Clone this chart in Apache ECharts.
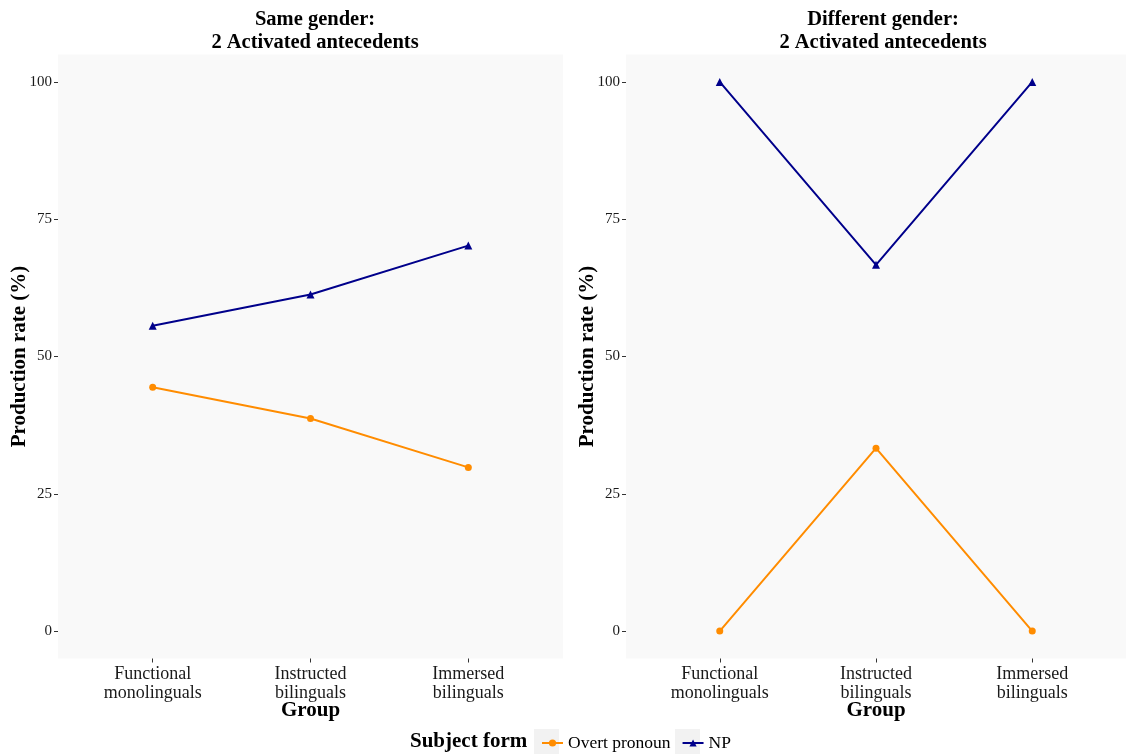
<!DOCTYPE html>
<html>
<head>
<meta charset="utf-8">
<script src="https://cdn.jsdelivr.net/npm/echarts@6/dist/echarts.min.js"></script>
<style>
  html, body { margin: 0; padding: 0; background: #fff; }
  #chart { width: 1126px; height: 756px; }
</style>
</head>
<body>
<div id="chart"></div>
<script>
var groups = ['Functional\nmonolinguals', 'Instructed\nbilinguals', 'Immersed\nbilinguals'];
var yTicks = [0, 25, 50, 75, 100];
var panelTitles = ['Same gender:\n2 Activated antecedents', 'Different gender:\n2 Activated antecedents'];

var sameOvert = [44.4, 38.7, 29.8];
var sameNP = [55.6, 61.3, 70.2];
var diffOvert = [0, 33.3, 0];
var diffNP = [100, 66.7, 100];

var font = 'Liberation Serif';
var orange = '#ff8c00';
var navy = '#00008b';

var chart = echarts.init(document.getElementById('chart'), null, { renderer: 'canvas' });

function pts(arr) {
    return arr.map(function (v, i) { return [i, v]; });
}

function xAxisFor(idx) {
    return {
        type: 'value',
        gridIndex: idx,
        min: -0.6,
        max: 2.6,
        name: 'Group',
        nameLocation: 'middle',
        nameGap: 42,
        nameMoveOverlap: false,
        nameTextStyle: { fontFamily: font, fontWeight: 'bold', fontSize: 21, color: '#000' },
        axisLine: { show: false, onZero: false },
        splitLine: { show: false },
        axisTick: { show: true, customValues: [0, 1, 2], length: 4, lineStyle: { color: '#333' } },
        axisLabel: {
            customValues: [0, 1, 2],
            formatter: function (v) { return groups[Math.round(v)]; },
            fontFamily: font, fontSize: 18, color: '#1a1a1a', lineHeight: 19, margin: 6
        }
    };
}

function yAxisFor(idx) {
    return {
        type: 'value',
        gridIndex: idx,
        min: -5,
        max: 105,
        name: 'Production rate (%)',
        nameLocation: 'middle',
        nameRotate: 90,
        nameGap: 28,
        nameMoveOverlap: false,
        nameTextStyle: { fontFamily: font, fontWeight: 'bold', fontSize: 21, color: '#000' },
        axisLine: { show: false, onZero: false },
        splitLine: { show: false },
        axisTick: { show: true, customValues: yTicks, length: 4, lineStyle: { color: '#333' } },
        axisLabel: { customValues: yTicks, fontFamily: font, fontSize: 15, color: '#1a1a1a', margin: 6 }
    };
}

function lineSeries(name, data, idx, color, symbol, size) {
    return {
        name: name,
        type: 'line',
        xAxisIndex: idx,
        yAxisIndex: idx,
        data: pts(data),
        symbol: symbol,
        symbolSize: size,
        showSymbol: true,
        lineStyle: { color: color, width: 2 },
        itemStyle: { color: color },
        emphasis: { disabled: true }
    };
}

var titleStyle = { fontFamily: font, fontWeight: 'bold', fontSize: 20.5, lineHeight: 23, color: '#000' };

var option = {
    animation: false,
    backgroundColor: '#fff',
    title: [
        { text: panelTitles[0], left: 310, top: 3, textAlign: 'center', textStyle: titleStyle },
        { text: panelTitles[1], left: 878, top: 3, textAlign: 'center', textStyle: titleStyle }
    ],
    grid: [
        { left: 58, width: 505, top: 54.5, height: 604, show: true, backgroundColor: '#f9f9f9', borderWidth: 0 },
        { left: 626, width: 505, top: 54.5, height: 604, show: true, backgroundColor: '#f9f9f9', borderWidth: 0 }
    ],
    xAxis: [xAxisFor(0), xAxisFor(1)],
    yAxis: [yAxisFor(0), yAxisFor(1)],
    legend: {
        data: ['Overt pronoun', 'NP'],
        left: 536,
        top: 729,
        z: 5,
        itemWidth: 21,
        itemHeight: 9,
        itemGap: 11,
        textStyle: { fontFamily: font, fontSize: 17.5, color: '#000' }
    },
    graphic: [
        { type: 'text', left: 410, top: 731, z: 5,
          style: { text: 'Subject form', font: 'bold 21px "Liberation Serif"', fill: '#000' } },
        { type: 'rect', left: 534, top: 729, z: 1, shape: { width: 25, height: 25 }, style: { fill: '#f2f2f2' } },
        { type: 'rect', left: 675, top: 729, z: 1, shape: { width: 25, height: 25 }, style: { fill: '#f2f2f2' } }
    ],
    series: [
        lineSeries('Overt pronoun', sameOvert, 0, orange, 'circle', 7),
        lineSeries('NP', sameNP, 0, navy, 'triangle', 8),
        lineSeries('Overt pronoun', diffOvert, 1, orange, 'circle', 7),
        lineSeries('NP', diffNP, 1, navy, 'triangle', 8)
    ]
};

chart.setOption(option);

window.addEventListener('resize', function () {
    chart.resize();
});
</script>
</body>
</html>
